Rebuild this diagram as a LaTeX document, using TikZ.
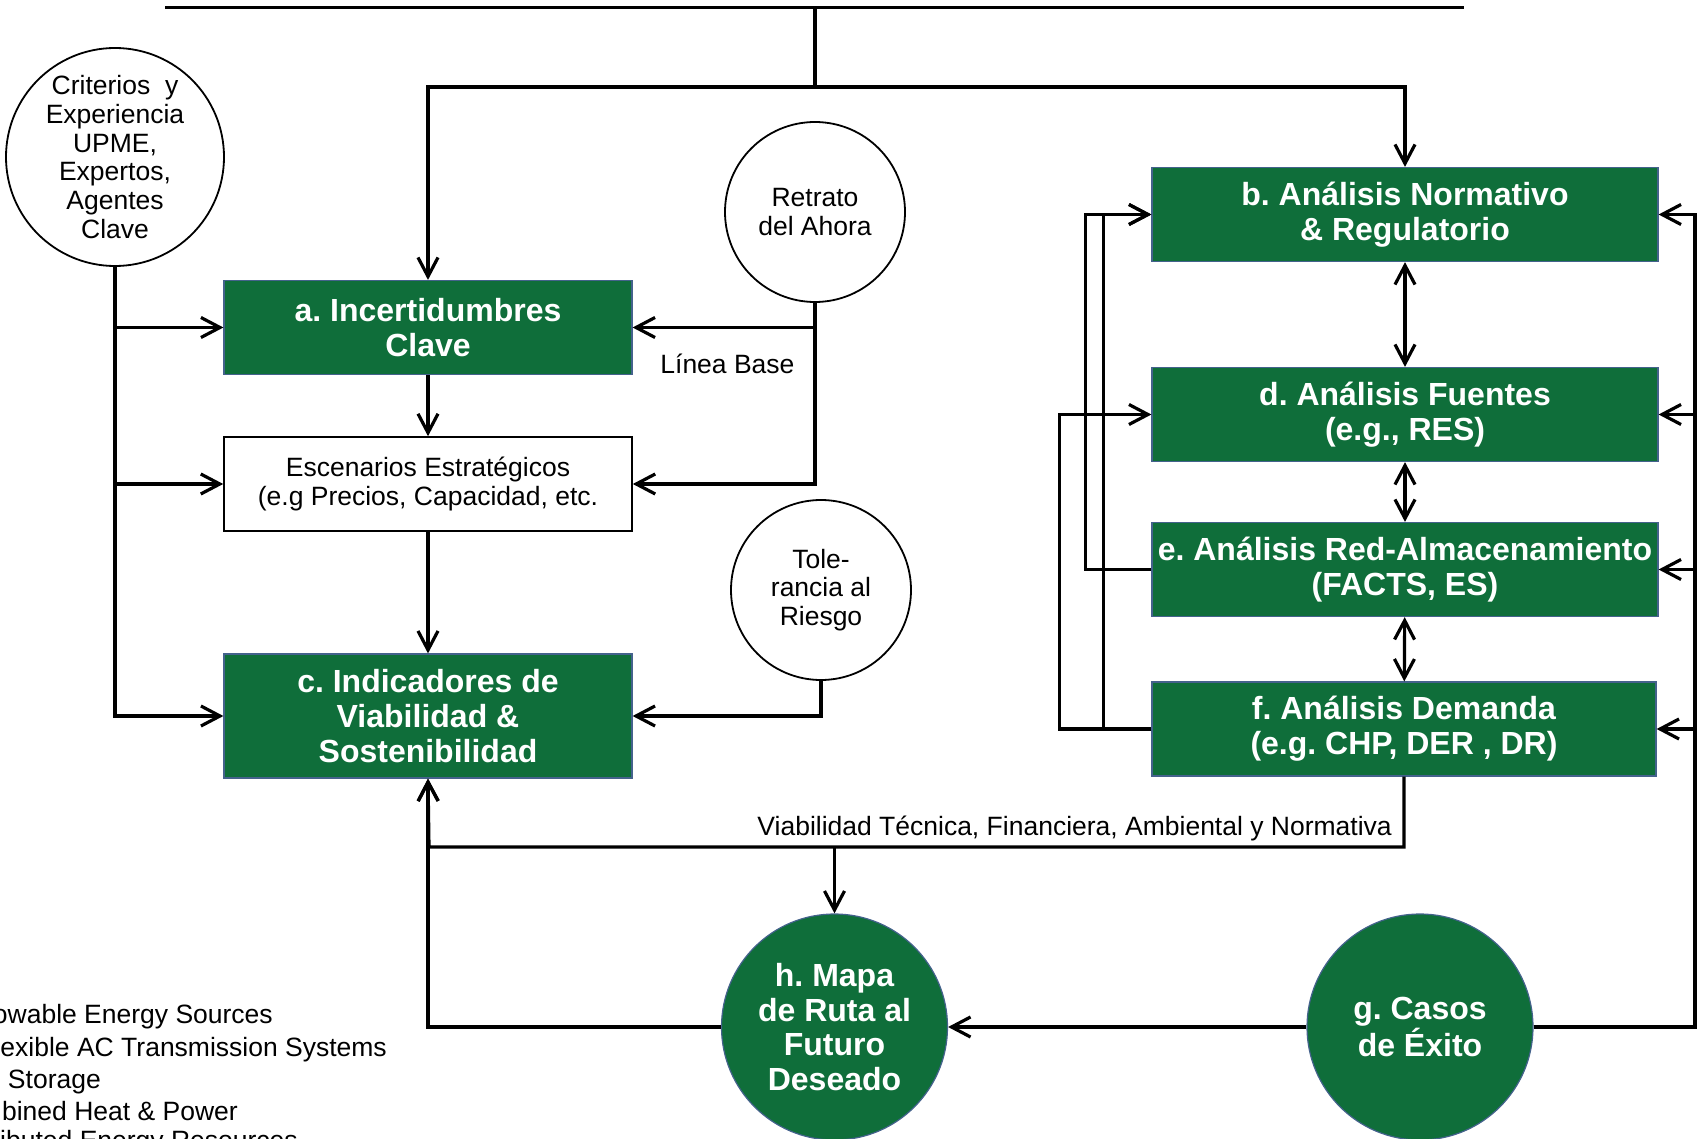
\documentclass[tikz,border=0pt]{standalone}
\usepackage{fontspec}
\setmainfont{Liberation Sans}
\usepackage{tikz}
\usetikzlibrary{calc, arrows.meta, shapes.geometric}
\definecolor{stagegreen}{RGB}{15,110,58}
\definecolor{stageedge}{RGB}{68,98,140}
\tikzstyle{stage}  = [rectangle, minimum width=506pt, minimum height=94pt, inner sep=0pt, align=center, text=white, fill=stagegreen, draw=stageedge, line width=1.2pt, font=\fontsize{32}{34.7}\selectfont\bfseries]
\tikzstyle{plain}  = [rectangle, minimum width=408pt, minimum height=94pt, inner sep=0pt, align=center, draw=black, line width=1.6pt, font=\fontsize{26.5}{29}\selectfont]
\tikzstyle{source} = [circle, minimum size=180pt, inner sep=0pt, align=center, draw=black, line width=1.8pt, font=\fontsize{26.5}{28.8}\selectfont]
\tikzstyle{goal}   = [circle, minimum size=226pt, inner sep=0pt, align=center, text=white, fill=stagegreen, draw=stageedge, line width=1.2pt, font=\fontsize{32}{34.7}\selectfont\bfseries]
\tikzstyle{legend} = [anchor=base east, inner sep=0pt, font=\fontsize{26.5}{32}\selectfont]
\tikzstyle{line}   = [line width=3.2pt]
\tikzstyle{arrow}  = [line width=3.2pt, ->, >={Straight Barb[length=19pt, width=20pt]}]
\tikzstyle{twoway} = [line width=3.2pt, <->, >={Straight Barb[length=19pt, width=20pt]}]
\frenchspacing

\begin{document}
\begin{tikzpicture}[x=1pt, y=-1pt]
  \useasboundingbox (0,0) rectangle (1698,1139);
  \coordinate (RuleLeft) at (165,7.5);
  \coordinate (RuleRight) at (1464,7.5);
  \coordinate (Split) at (815,87);
  \coordinate (FeedBack) at (429,847);
  \coordinate (Rail) at (1695,0);

  % left column
  \node[source, minimum size=218pt, inner sep=-4pt] (Criterios) at (115,157) {Criterios~ y\\Experiencia\\UPME,\\Expertos,\\Agentes\\Clave};
  \node[source] (Retrato) at (815,212) {Retrato\\del Ahora};
  \node[source] (Tolerancia) at (821,590) {Tole-\\rancia al\\Riesgo};
  \node[stage, minimum width=408pt] (Incertidumbres) at (428,327.5) {a. Incertidumbres\\Clave};
  \node[plain] (Escenarios) at (428,484) {Escenarios Estratégicos\\(e.g Precios, Capacidad, etc.};
  \node[stage, minimum width=408pt, minimum height=124pt] (Indicadores) at (428,716) {c. Indicadores de\\Viabilidad \&\\Sostenibilidad};

  % right column
  \node[stage] (Normativo) at (1405,214.5) {b. Análisis Normativo\\\& Regulatorio};
  \node[stage] (Fuentes) at (1405,414.5) {d. Análisis Fuentes\\(e.g., RES)};
  \node[stage] (Red) at (1405,569.5) {e. Análisis Red-Almacenamiento\\(FACTS, ES)};
  \node[stage, minimum width=504pt] (Demanda) at (1404,729) {f. Análisis Demanda\\(e.g. CHP, DER , DR)};

  % bottom row
  \node[goal] (Mapa) at (834.5,1027) {h. Mapa\\de Ruta al\\Futuro\\Deseado};
  \node[goal] (Casos) at (1420,1027) {g. Casos\\de Éxito};

  \draw[line, line width=3.6pt] (RuleLeft) -- (RuleRight);
  \draw[line] (Split |- RuleLeft) -- (Split);
  \draw[arrow] (Split) -| (Incertidumbres.north);
  \draw[arrow] (Split) -| (Normativo.north);

  \foreach \Stage in {Incertidumbres, Escenarios, Indicadores} {
      \draw[arrow] (Criterios.south) |- (\Stage.west);
  }
  \draw[arrow] (Retrato.south) |- (Incertidumbres.east) node[pos=0.74, below, yshift=-22pt, font=\fontsize{26.5}{29}\selectfont] (LineaBase) {Línea Base};
  \draw[arrow] (Retrato.south) |- (Escenarios.east);
  \draw[arrow] (Incertidumbres) -- (Escenarios);
  \draw[arrow] (Escenarios) -- (Indicadores);
  \draw[arrow] (Tolerancia.south) |- (Indicadores.east);

  \draw[twoway] (Normativo) -- (Fuentes);
  \draw[twoway] (Fuentes) -- (Red);
  \draw[twoway] (Red) -- (Demanda);
  \draw[arrow] (Red.west) -- ++(-66,0) |- (Normativo.west);
  \draw[arrow] (Demanda.west) -- ++(-48,0) |- (Normativo.west);
  \draw[arrow] (Demanda.west) -- ++(-92,0) |- (Fuentes.west);
  \foreach \Stage in {Normativo, Fuentes, Red, Demanda} {
      \draw[arrow] (Casos.east) -- (Casos.east -| Rail) |- (\Stage.east);
  }

  \draw[arrow] (Demanda.south) |- (FeedBack) -- (Indicadores.south);
  \node[anchor=base east, inner sep=0pt, font=\fontsize{26.5}{29}\selectfont] (Viabilidad) at (1392,835) {Viabilidad Técnica, Financiera, Ambiental y Normativa};
  \draw[arrow] (Mapa.north |- FeedBack) -- (Mapa.north);
  \draw[arrow] (Mapa.west) -| (Indicadores.south);
  \draw[arrow] (Casos) -- (Mapa);

  % legend, cut at the page edge
  \begin{scope}
    \clip (0,0) rectangle (1698,1139);
    \node[legend] (LegendRes) at (273,1023) {owable Energy Sources};
    \node[legend] (LegendFacts) at (387,1056) {exible AC Transmission Systems};
    \node[legend] (LegendEs) at (101,1088) {Storage};
    \node[legend] (LegendChp) at (238,1120) {bined Heat \& Power};
    \node[legend] (LegendDer) at (298,1149) {ibuted Energy Resources};
  \end{scope}
\end{tikzpicture}
\end{document}
